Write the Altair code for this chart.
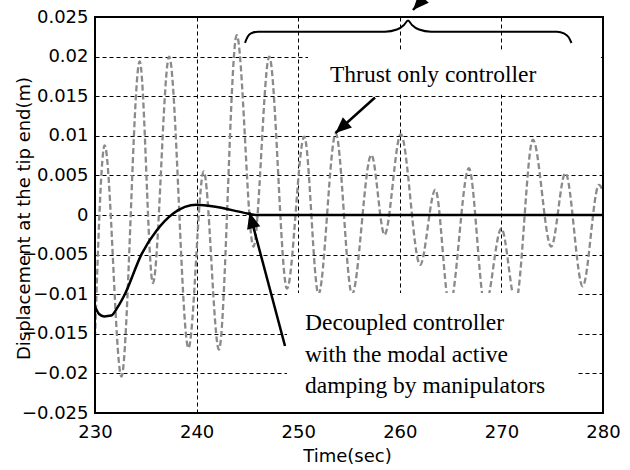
import altair as alt
import pandas as pd

# Thrust-only controller: tip displacement (m) over time (sec)
thrust_time = [230.0, 230.95, 232.6, 234.4, 235.7, 237.3, 239.2, 240.7, 242.2, 243.95,
               245.6, 247.15, 248.9, 250.6, 252.0, 253.7, 255.3, 257.2, 258.5, 260.1,
               262.0, 263.5, 264.9, 266.8, 268.4, 270.0, 271.4, 273.1, 274.9, 276.3,
               278.0, 279.6, 280.0]
thrust_disp = [-0.0155, 0.0088, -0.0204, 0.0194, -0.0086, 0.0200, -0.0168, 0.0055, -0.0170, 0.0227,
               -0.0040, 0.0200, -0.0093, 0.0099, -0.0100, 0.0103, -0.0100, 0.0076, -0.0025, 0.0102,
               -0.0063, 0.0032, -0.0115, 0.0059, -0.0115, -0.0017, -0.0110, 0.0095, -0.0040, 0.0053,
               -0.0090, 0.0038, 0.0030]

# Decoupled controller with modal active damping by manipulators
decoupled_time = [230.0, 230.4, 230.9, 231.6, 232.2, 232.9, 234.6, 236.1, 237.7, 240.0,
                  242.0, 244.6, 245.8, 280.0]
decoupled_disp = [-0.0116, -0.0125, -0.0128, -0.0127, -0.0117, -0.0101, -0.0049, -0.0019, 0.0002, 0.0013,
                  0.0010, 0.0003, 0.0000, 0.0000]

x_ticks = [230, 240, 250, 260, 270, 280]
y_ticks = [-0.025, -0.02, -0.015, -0.01, -0.005, 0, 0.005, 0.01, 0.015, 0.02, 0.025]

x_title = "Time(sec)"
y_title = "Displacement at the tip end(m)"
thrust_label = ["Thrust only controller"]
decoupled_label = ["Decoupled controller", "with the modal active", "damping by manipulators"]

# Annotation anchors, in data units (time, displacement)
thrust_label_at = [(253.13, 0.01683)]
decoupled_label_at = [(250.67, -0.01452), (250.67, -0.01850), (250.67, -0.02247)]
label_boxes = [(250.96, 279.80, 0.01520, 0.02085), (248.90, 277.45, -0.02490, -0.00985)]
arrows = [  # tail t, tail v, tip t, tip v, heading (deg clockwise from up)
    (257.56, 0.01484, 253.67, 0.01035, 228),
    (248.70, -0.01654, 245.21, 0.00032, 345),
    (264.45, 0.03030, 261.30, 0.02588, 222),
]
brace_t = [244.76, 245.01, 245.35, 246.04, 258.54, 259.72, 260.41, 260.81, 261.20, 261.89,
           263.07, 275.47, 276.16, 276.60, 276.90]
brace_v = [0.02172, 0.02247, 0.02292, 0.02314, 0.02314, 0.02342, 0.02399, 0.02456, 0.02399, 0.02342,
           0.02314, 0.02314, 0.02292, 0.02247, 0.02172]

xs = alt.Scale(domain=[230, 280], nice=False, zero=False)
ys = alt.Scale(domain=[-0.025, 0.025], nice=False, zero=False)

axis_common = dict(
    grid=True, gridColor="black", gridDash=[4, 3], gridWidth=1, gridOpacity=1,
    domain=False, ticks=False, labelFont="DejaVu Sans", labelFontSize=18,
    labelColor="black", titleFont="DejaVu Sans", titleFontSize=18,
    titleFontWeight="normal", titleColor="black", labelOverlap=False,
)
x_axis = alt.Axis(values=x_ticks, format="d", labelPadding=10, labelFlush=False,
                  title=x_title, titleX=252, titleY=48, titleAlign="center",
                  titleBaseline="alphabetic", **axis_common)
y_axis = alt.Axis(values=y_ticks, format=".3~f", labelPadding=7, title=y_title,
                  titleAngle=270, titleX=-66, titleY=201, titleAlign="center",
                  titleBaseline="alphabetic", **axis_common)


def X(field):
    return alt.X(field, scale=xs, axis=x_axis)


def Y(field):
    return alt.Y(field, scale=ys, axis=y_axis)


thrust_df = pd.DataFrame({"t": thrust_time, "v": thrust_disp})
decoupled_df = pd.DataFrame({"t": decoupled_time, "v": decoupled_disp})

thrust_line = alt.Chart(thrust_df).mark_line(
    color="#8a8a8a", strokeWidth=2.3, strokeDash=[6, 3], interpolate="monotone", clip=True
).encode(x=X("t:Q"), y=Y("v:Q"))

decoupled_line = alt.Chart(decoupled_df).mark_line(
    color="black", strokeWidth=2.5, interpolate="monotone", clip=True
).encode(x=X("t:Q"), y=Y("v:Q"))

box_df = pd.DataFrame(label_boxes, columns=["t", "t2", "v", "v2"])
boxes = alt.Chart(box_df).mark_rect(fill="white", strokeWidth=0).encode(
    x=X("t:Q"), x2="t2:Q", y=Y("v:Q"), y2="v2:Q",
)

text_df = pd.DataFrame({
    "label": thrust_label + decoupled_label,
    "t": [p[0] for p in thrust_label_at + decoupled_label_at],
    "v": [p[1] for p in thrust_label_at + decoupled_label_at],
})
texts = alt.Chart(text_df).mark_text(
    font="Liberation Serif", fontSize=23.5, align="left", baseline="alphabetic", color="black"
).encode(x=X("t:Q"), y=Y("v:Q"), text="label:N")

arrow_df = pd.DataFrame(arrows, columns=["t", "v", "t2", "v2", "ang"])
arrow_shafts = alt.Chart(arrow_df).mark_rule(color="black", strokeWidth=2.5).encode(
    x=X("t:Q"), x2="t2:Q", y=Y("v:Q"), y2="v2:Q",
)
arrow_heads = alt.Chart(arrow_df).mark_point(
    shape="M0,0L-0.85,2L0.85,2Z", filled=True, color="black", opacity=1, size=256
).encode(
    x=X("t2:Q"), y=Y("v2:Q"),
    angle=alt.Angle("ang:Q", scale=None),
)

brace_df = pd.DataFrame({"t": brace_t, "v": brace_v})
brace = alt.Chart(brace_df).mark_line(color="black", strokeWidth=2, interpolate="monotone").encode(
    x=X("t:Q"), y=Y("v:Q")
)

frame_df = pd.DataFrame({"t": [230], "t2": [280], "v": [-0.025], "v2": [0.025]})
frame = alt.Chart(frame_df).mark_rect(fillOpacity=0, stroke="black", strokeWidth=2).encode(
    x=X("t:Q"), x2="t2:Q", y=Y("v:Q"), y2="v2:Q",
)

chart = alt.layer(
    thrust_line, decoupled_line, boxes, texts, arrow_shafts, arrow_heads, brace, frame
).properties(
    width=508, height=396,
    padding={"left": 95, "top": 17, "right": 27, "bottom": 57},
    autosize=alt.AutoSizeParams(type="none"),
    background="white",
).configure_view(strokeWidth=0)

chart.save("out.html", embed_options={"renderer": "svg", "actions": False})
